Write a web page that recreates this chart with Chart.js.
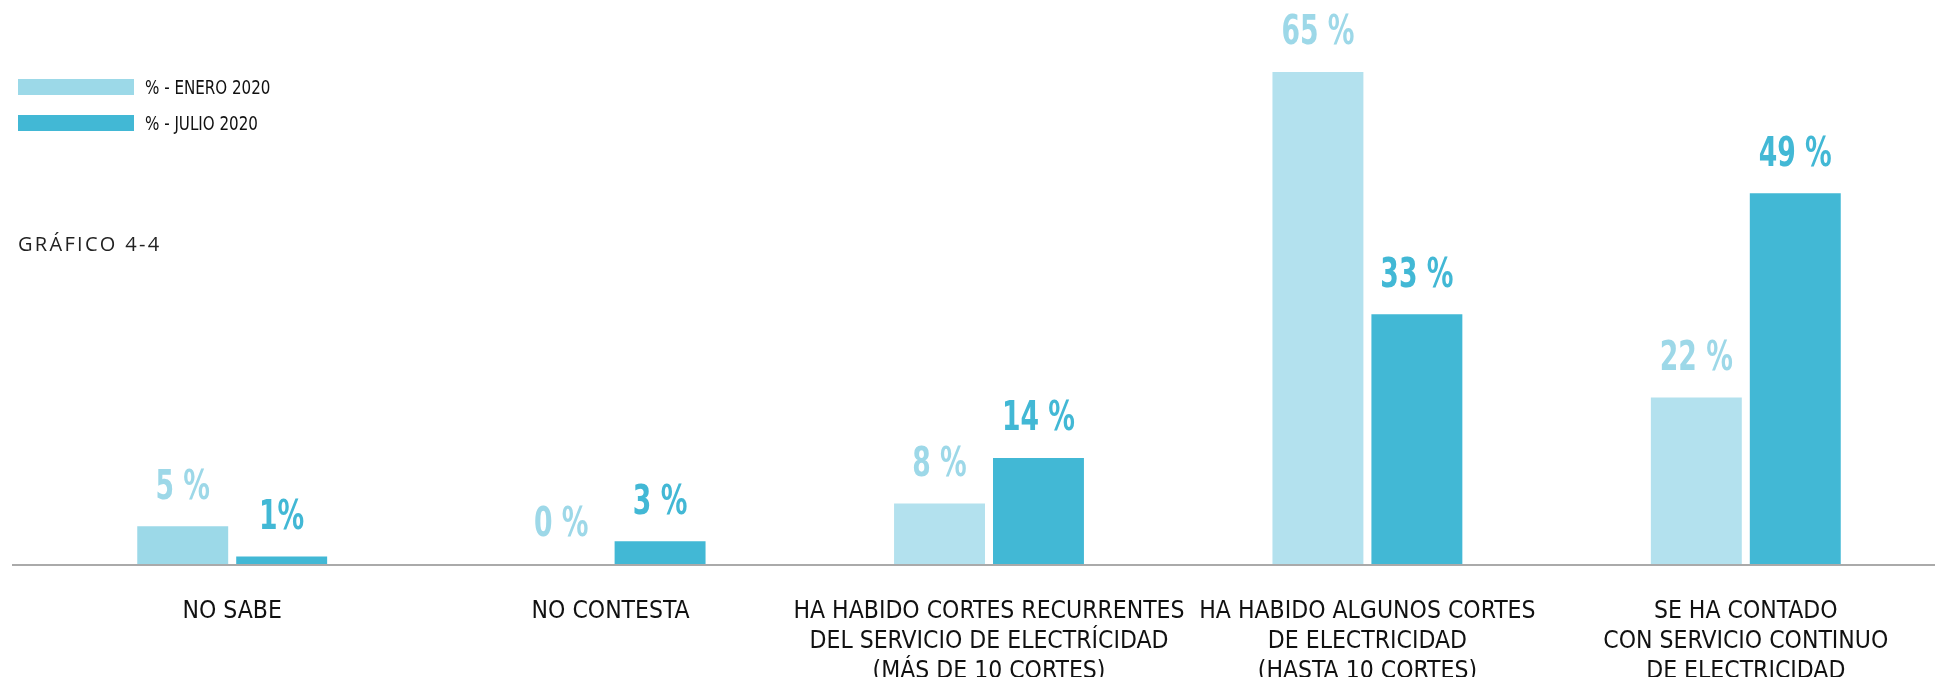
<!DOCTYPE html>
<html>
<head>
<meta charset="utf-8">
<script src="https://cdn.jsdelivr.net/npm/chart.js@4/dist/chart.umd.min.js"></script>
<style>
  html, body { margin: 0; padding: 0; background: #fff; overflow: hidden; }
  #wrap { position: relative; width: 1935px; height: 677px; }
  #c { position: absolute; left: 0; top: 0; }
  .legend { position: absolute; left: 18px; top: 79px; font-family: 'Liberation Sans Narrow', 'DejaVu Sans Condensed', sans-serif; font-size: 20px; color: #111; }
  .legend .item { display: flex; align-items: center; height: 16px; margin-bottom: 20px; }
  .legend .box { width: 116px; height: 16px; margin-right: 11px; flex: none; }
  .legend span { display: inline-block; transform: scaleX(0.84); transform-origin: left center; white-space: nowrap; }
  .title { position: absolute; left: 18px; top: 230px; font-family: 'Open Sans', sans-serif; font-size: 20px; letter-spacing: 2.3px; color: #222; }
</style>
</head>
<body>
<div id="wrap">
  <canvas id="c" width="1935" height="677"></canvas>
  <div class="legend" id="legend"></div>
  <div class="title">GRÁFICO 4-4</div>
</div>
<script>
const categories = [
  ['NO SABE'],
  ['NO CONTESTA'],
  ['HA HABIDO CORTES RECURRENTES', 'DEL SERVICIO DE ELECTRÍCIDAD', '(MÁS DE 10 CORTES)'],
  ['HA HABIDO ALGUNOS CORTES', 'DE ELECTRICIDAD', '(HASTA 10 CORTES)'],
  ['SE HA CONTADO', 'CON SERVICIO CONTINUO', 'DE ELECTRICIDAD']
];
const seriesNames = ['% - ENERO 2020', '% - JULIO 2020'];
const enero2020 = [5, 0, 8, 65, 22];
const julio2020 = [1, 3, 14, 33, 49];

const C_ENERO_LEG = '#9cd9e8';
const C_ENERO_BAR = ['#9cd9e8', '#b3e1ee', '#b3e1ee', '#b3e1ee', '#b3e1ee'];
const C_JULIO = '#42b8d5';

const valueLabels = {
  id: 'valueLabels',
  afterDatasetsDraw(chart) {
    const ctx = chart.ctx;
    chart.data.datasets.forEach((ds, i) => {
      const meta = chart.getDatasetMeta(i);
      meta.data.forEach((el, j) => {
        const v = ds.data[j];
        ctx.save();
        ctx.font = 'bold 40px "Liberation Sans Narrow", "DejaVu Sans Condensed", sans-serif';
        ctx.textAlign = 'center';
        ctx.textBaseline = 'middle';
        ctx.fillStyle = ds.labelColor;
        ctx.translate(el.x, el.y - 38);
        ctx.scale(0.74, 1);
        ctx.fillText(v + (v === 1 ? '%' : ' %'), 0, 0);
        ctx.restore();
      });
    });
  }
};

const baseLine = {
  id: 'baseLine',
  afterDatasetsDraw(chart) {
    const ctx = chart.ctx;
    const y = chart.scales.y.getPixelForValue(0);
    ctx.save();
    ctx.strokeStyle = '#aaaaaa';
    ctx.lineWidth = 2;
    ctx.beginPath();
    ctx.moveTo(12, y + 1);
    ctx.lineTo(chart.width, y + 1);
    ctx.stroke();
    ctx.restore();
  }
};

const chart = new Chart(document.getElementById('c'), {
  type: 'bar',
  data: {
    labels: categories,
    datasets: [
      { label: seriesNames[0], data: enero2020, backgroundColor: C_ENERO_BAR, legendColor: C_ENERO_LEG, labelColor: '#9dd8e8',
        categoryPercentage: 0.523, barPercentage: 0.919 },
      { label: seriesNames[1], data: julio2020, backgroundColor: C_JULIO, legendColor: C_JULIO, labelColor: C_JULIO,
        categoryPercentage: 0.523, barPercentage: 0.919 }
    ]
  },
  options: {
    responsive: false,
    animation: false,
    layout: { padding: { left: 43, right: 0, top: 4, bottom: 0 } },
    plugins: { legend: { display: false }, tooltip: { enabled: false } },
    scales: {
      x: {
        grid: { display: false, drawTicks: false },
        border: { display: false },
        ticks: {
          color: '#111',
          padding: 33,
          maxRotation: 0,
          autoSkip: false,
          font: { family: '"Liberation Sans Narrow", "DejaVu Sans Condensed", sans-serif', size: 24.5, lineHeight: '30px' }
        },
        afterFit(scale) { scale.height = 113; }
      },
      y: { display: false, min: 0, max: 74 }
    }
  },
  plugins: [baseLine, valueLabels]
});

const leg = document.getElementById('legend');
chart.data.datasets.forEach(ds => {
  const item = document.createElement('div');
  item.className = 'item';
  const box = document.createElement('div');
  box.className = 'box';
  box.style.background = ds.legendColor;
  const t = document.createElement('span');
  t.textContent = ds.label;
  item.appendChild(box);
  item.appendChild(t);
  leg.appendChild(item);
});
</script>
</body>
</html>
